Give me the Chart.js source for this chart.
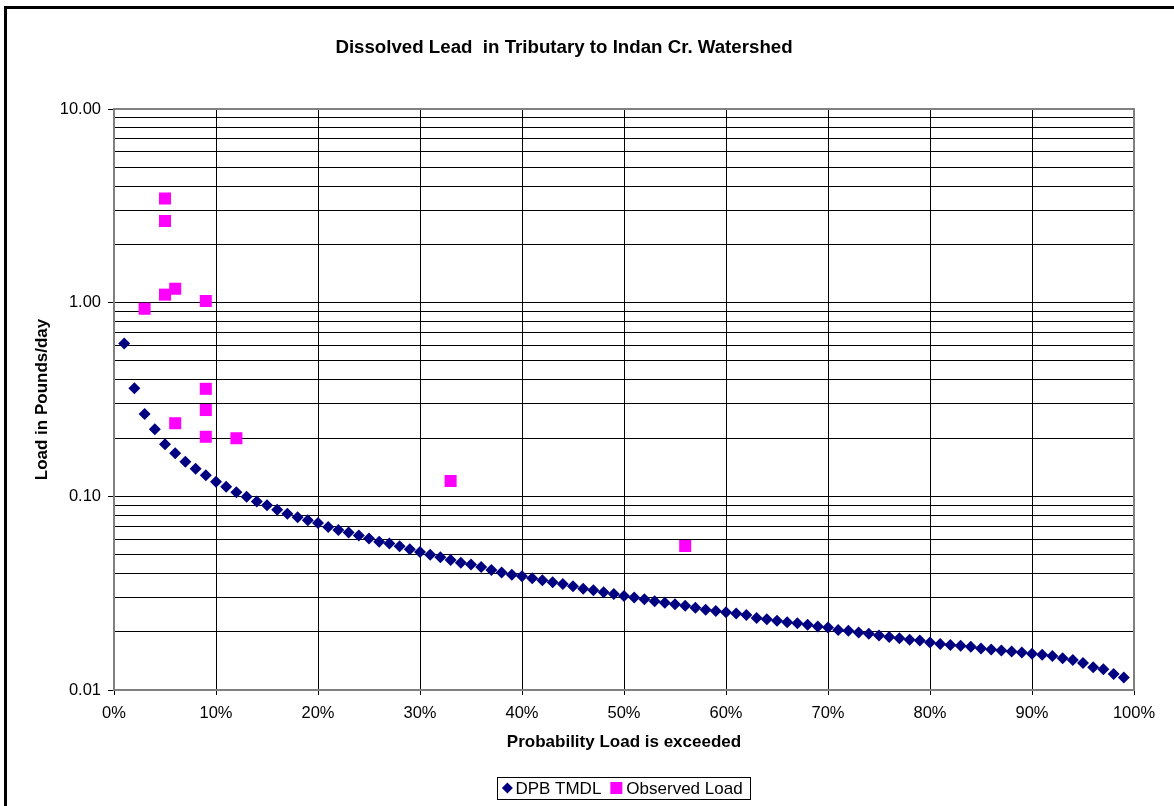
<!DOCTYPE html>
<html><head><meta charset="utf-8">
<script src="https://cdn.jsdelivr.net/npm/chart.js@4.4.1/dist/chart.umd.min.js"></script>
<style>
html,body{margin:0;padding:0;background:#fff;}
#frame{position:absolute;left:4px;top:6px;width:1190px;height:900px;border:3px solid #000;box-sizing:border-box;}
#wrap{position:absolute;left:0;top:0;width:1174px;height:806px;}
</style></head><body>
<div id="frame"></div>
<div id="wrap"><canvas id="c" width="1174" height="806"></canvas></div>
<script>
const titleText = 'Dissolved Lead  in Tributary to Indan Cr. Watershed';
const xAxisTitle = 'Probability Load is exceeded';
const yAxisTitle = 'Load in Pounds/day';
const seriesNames = ['DPB TMDL', 'Observed Load'];

// DPB TMDL: probability (%) and load (lb/day)
const tmdlPercent = [1,2,3,4,5,6,7,8,9,10,11,12,13,14,15,16,17,18,19,20,21,22,23,24,25,26,27,28,29,30,31,32,33,34,35,36,37,38,39,40,41,42,43,44,45,46,47,48,49,50,51,52,53,54,55,56,57,58,59,60,61,62,63,64,65,66,67,68,69,70,71,72,73,74,75,76,77,78,79,80,81,82,83,84,85,86,87,88,89,90,91,92,93,94,95,96,97,98,99];
const tmdlLoad = [0.615,0.361,0.266,0.222,0.186,0.167,0.151,0.139,0.1285,0.119,0.112,0.105,0.0996,0.094,0.090,0.0853,0.0814,0.078,0.0752,0.0729,0.0695,0.067,0.065,0.0627,0.0605,0.0583,0.057,0.0553,0.0533,0.0516,0.050,0.0485,0.0469,0.0454,0.0444,0.0432,0.0417,0.0404,0.0394,0.0387,0.0378,0.0369,0.036,0.0353,0.0343,0.0333,0.0327,0.032,0.0313,0.0306,0.030,0.0294,0.0287,0.0282,0.0277,0.0272,0.0266,0.026,0.0256,0.0252,0.0248,0.0244,0.02355,0.0232,0.0228,0.0224,0.0221,0.0217,0.0213,0.021,0.0204,0.0202,0.0198,0.0195,0.0191,0.0188,0.0185,0.0182,0.018,0.0176,0.0173,0.0171,0.0169,0.0167,0.0164,0.0162,0.016,0.0158,0.0156,0.0154,0.0152,0.015,0.0146,0.0143,0.0138,0.0131,0.0128,0.0121,0.0116];

// Observed load
const obsPercent = [5,5,6,5,9,3,9,9,6,9,12,33,56];
const obsLoad = [3.45,2.64,1.18,1.10,1.02,0.93,0.359,0.279,0.2385,0.203,0.1995,0.120,0.0554];

const xTickValues = [0,0.1,0.2,0.3,0.4,0.5,0.6,0.7,0.8,0.9,1];
const xTickLabels = ['0%','10%','20%','30%','40%','50%','60%','70%','80%','90%','100%'];
const yTickValues = [0.01,0.02,0.03,0.04,0.05,0.06,0.07,0.08,0.09,0.1,0.2,0.3,0.4,0.5,0.6,0.7,0.8,0.9,1,2,3,4,5,6,7,8,9,10];
const yMajorValues = [0.01,0.1,1,10];
const yMajorLabels = ['0.01','0.10','1.00','10.00'];

const FONT = "'Liberation Sans', Arial, sans-serif";

const decor = {
  id: 'decor',
  afterDraw(chart) {
    const ctx = chart.ctx, a = chart.chartArea;
    ctx.save();
    ctx.strokeStyle = '#808080';
    ctx.lineWidth = 2;
    ctx.beginPath();
    ctx.moveTo(a.left, a.top); ctx.lineTo(a.right, a.top); ctx.lineTo(a.right, a.bottom);
    ctx.stroke();
    ctx.fillStyle = '#000';
    ctx.font = 'bold 18.7px ' + FONT;
    ctx.textAlign = 'center'; ctx.textBaseline = 'middle';
    ctx.fillText(titleText, 564, 48);
    ctx.font = 'bold 17px ' + FONT;
    ctx.fillText(xAxisTitle, (a.left + a.right) / 2, a.bottom + 52);
    ctx.save();
    ctx.translate(a.left - 72, (a.top + a.bottom) / 2);
    ctx.rotate(-Math.PI / 2);
    ctx.fillText(yAxisTitle, 0, 0);
    ctx.restore();
    ctx.font = '17px ' + FONT;
    ctx.textAlign = 'left';
    const w1 = ctx.measureText(seriesNames[0]).width;
    const w2 = ctx.measureText(seriesNames[1]).width;
    const total = 10 + 8 + w1 + 9 + 12 + 4 + w2 + 8;
    const bx = (a.left + a.right) / 2 - total / 2;
    const by = 777, bh = 22;
    ctx.fillStyle = '#fff';
    ctx.fillRect(bx, by, total, bh);
    ctx.strokeStyle = '#000'; ctx.lineWidth = 1;
    ctx.strokeRect(Math.round(bx) + 0.5, by + 0.5, Math.round(total), bh);
    const cy = by + bh / 2;
    let x = bx + 10;
    ctx.fillStyle = '#000080';
    ctx.beginPath();
    ctx.moveTo(x, cy - 5.5); ctx.lineTo(x + 5.5, cy); ctx.lineTo(x, cy + 5.5); ctx.lineTo(x - 5.5, cy); ctx.closePath();
    ctx.fill();
    x += 8;
    ctx.fillStyle = '#000';
    ctx.fillText(seriesNames[0], x, cy + 1);
    x += w1 + 9;
    ctx.fillStyle = '#FF00FF';
    ctx.fillRect(x, cy - 6, 12, 12);
    x += 16;
    ctx.fillStyle = '#000';
    ctx.fillText(seriesNames[1], x, cy + 1);
    ctx.restore();
  }
};

new Chart(document.getElementById('c'), {
  type: 'scatter',
  data: {
    datasets: [
      { label: seriesNames[0], data: tmdlPercent.map((p, i) => ({ x: p / 100, y: tmdlLoad[i] })),
        pointStyle: 'rectRot', pointRadius: 6, backgroundColor: '#000080', borderColor: '#000080', borderWidth: 0 },
      { label: seriesNames[1], data: obsPercent.map((p, i) => ({ x: p / 100, y: obsLoad[i] })),
        pointStyle: 'rect', pointRadius: 8.5, backgroundColor: '#FF00FF', borderColor: '#FF00FF', borderWidth: 0 }
    ]
  },
  options: {
    responsive: false, animation: false, devicePixelRatio: 1,
    layout: { padding: { top: 109, right: 40, left: 0, bottom: 0 } },
    plugins: { legend: { display: false }, title: { display: false }, tooltip: { enabled: false } },
    scales: {
      x: {
        type: 'linear', min: 0, max: 1,
        afterFit(s) { s.height = 116; },
        afterBuildTicks(s) { s.ticks = xTickValues.map(v => ({ value: v })); },
        ticks: { autoSkip: false, maxRotation: 0, color: '#000', padding: 9,
          font: { family: FONT, size: 16.5 },
          callback: (v, i) => xTickLabels[xTickValues.indexOf(v)] },
        grid: { color: c => (c.tick && c.tick.value === 1) ? 'rgba(0,0,0,0)' : '#000', lineWidth: 1, tickLength: 5, tickColor: '#000' },
        border: { color: '#808080', width: 2 }
      },
      y: {
        type: 'logarithmic', min: 0.01, max: 10,
        afterFit(s) { s.width = 114; },
        afterBuildTicks(s) { s.ticks = yTickValues.map(v => ({ value: v, major: yMajorValues.includes(v) })); },
        ticks: { autoSkip: false, color: '#000', padding: 7,
          font: { family: FONT, size: 16.5 },
          callback: (v) => { const k = yMajorValues.indexOf(v); return k >= 0 ? yMajorLabels[k] : ''; } },
        grid: { color: c => (c.tick && c.tick.value === 10) ? 'rgba(0,0,0,0)' : '#000', lineWidth: 1, tickLength: 6,
          tickColor: c => (c.tick && yMajorValues.includes(c.tick.value)) ? '#000' : 'rgba(0,0,0,0)' },
        border: { color: '#808080', width: 2 }
      }
    }
  },
  plugins: [decor]
});
</script>
</body></html>
